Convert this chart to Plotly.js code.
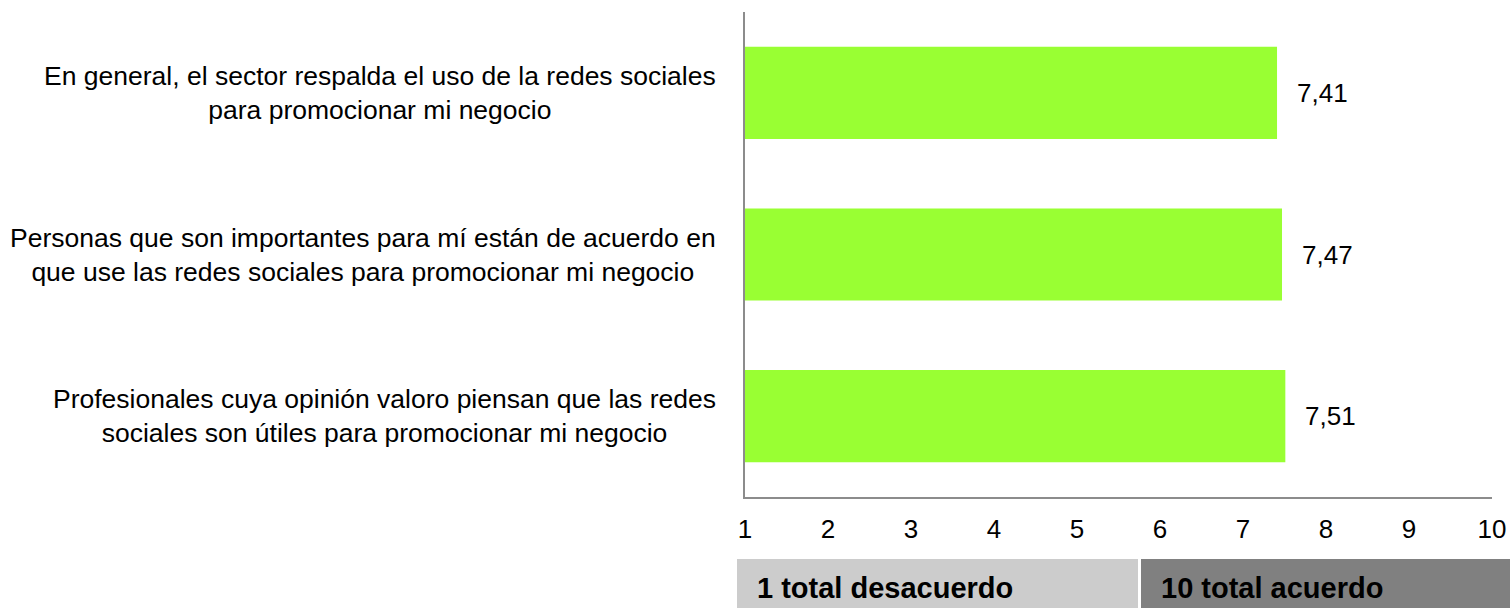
<!DOCTYPE html>
<html>
<head>
<meta charset="utf-8">
<script src="https://cdn.plot.ly/plotly-3.0.1.min.js"></script>
<style>
  html, body { margin: 0; padding: 0; background: #ffffff; }
  #chart { width: 1510px; height: 608px; }
</style>
</head>
<body>
<div id="chart"></div>
<script>
// ---- data ----
const categories = [
  "En general, el sector respalda el uso de la redes sociales<br>para promocionar mi negocio",
  "Personas que son importantes para mí están de acuerdo en<br>que use las redes sociales para promocionar mi negocio",
  "Profesionales cuya opinión valoro piensan que las redes<br>sociales son útiles para promocionar mi negocio"
];
const values = [7.41, 7.47, 7.51];
const tickValues = [1, 2, 3, 4, 5, 6, 7, 8, 9, 10];
const scaleLabels = ["1 total desacuerdo", "10 total acuerdo"];

// ---- styling ----
const FONT = "Liberation Sans, Arial, sans-serif";
const GREEN = "#99FF33";
const AXIS = "#8c8c8c";
const W = 1510, H = 608;
const margin = { l: 745, r: 18, t: 12, b: 111 };
const pw = W - margin.l - margin.r;
const ph = H - margin.t - margin.b;
const px = v => (v - margin.l) / pw;            // pixel x -> paper x
const py = v => (H - margin.b - v) / ph;        // pixel y -> paper y

const trace = {
  type: "bar",
  orientation: "h",
  y: categories,
  x: values,
  width: 0.57,
  marker: { color: GREEN, line: { width: 0 } },
  hoverinfo: "x+y"
};

const annotations = [];
categories.forEach((c, i) => {
  annotations.push({
    xref: "paper", yref: "y", x: 0, y: c,
    xanchor: "right", yanchor: "middle", xshift: -27,
    text: c, showarrow: false, align: "center",
    font: { family: FONT, size: 26.5, color: "#000" }
  });
  annotations.push({
    xref: "x", yref: "y", x: values[i], y: c,
    xanchor: "left", yanchor: "middle", xshift: 18,
    text: values[i].toFixed(2).replace(".", ","), showarrow: false,
    font: { family: FONT, size: 26, color: "#000" }
  });
});

const boxes = [
  { x0: px(737), x1: px(1138), color: "#CCCCCC", tx: px(755) },
  { x0: px(1141), x1: px(1510), color: "#808080", tx: px(1159) }
];
const shapes = boxes.map(b => ({
  type: "rect", xref: "paper", yref: "paper",
  x0: b.x0, x1: b.x1, y0: py(608), y1: py(559),
  fillcolor: b.color, line: { width: 0 }, layer: "above"
}));
boxes.forEach((b, i) => {
  annotations.push({
    xref: "paper", yref: "paper", x: b.tx, y: py(588),
    xanchor: "left", yanchor: "middle",
    text: "<b>" + scaleLabels[i] + "</b>", showarrow: false,
    font: { family: FONT, size: 29, color: "#000" }
  });
});

const layout = {
  width: W, height: H,
  margin: margin,
  paper_bgcolor: "#ffffff",
  plot_bgcolor: "#ffffff",
  showlegend: false,
  bargap: 0.43,
  font: { family: FONT, size: 26, color: "#000" },
  xaxis: {
    range: [1, 10],
    tickmode: "array",
    tickvals: tickValues,
    ticktext: tickValues.map(String),
    showgrid: false, zeroline: false,
    showline: true, linecolor: AXIS, linewidth: 2,
    ticks: "",
    ticklabelstandoff: 8,
    tickfont: { family: FONT, size: 26, color: "#000" },
    fixedrange: true
  },
  yaxis: {
    type: "category",
    autorange: "reversed",
    showticklabels: false,
    showgrid: false, zeroline: false,
    showline: true, linecolor: AXIS, linewidth: 2,
    ticks: "",
    fixedrange: true
  },
  shapes: shapes,
  annotations: annotations
};

Plotly.newPlot("chart", [trace], layout, { displayModeBar: false, staticPlot: true });
</script>
</body>
</html>
